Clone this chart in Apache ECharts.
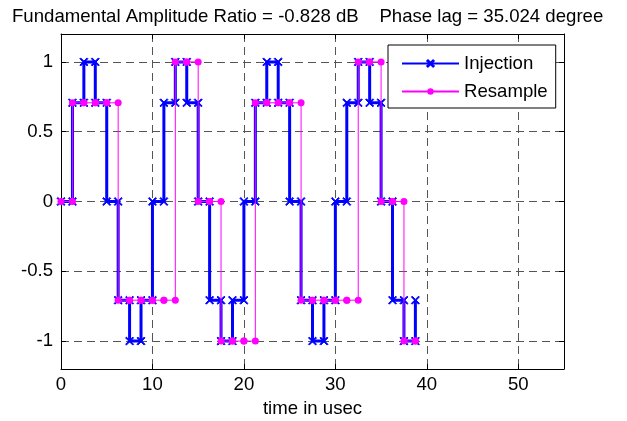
<!DOCTYPE html>
<html>
<head>
<meta charset="utf-8">
<script src="https://cdn.jsdelivr.net/npm/echarts@6/dist/echarts.min.js"></script>
<style>
html,body{margin:0;padding:0;background:#fff;}
#c{width:627px;height:421px;}
</style>
</head>
<body>
<div id="c"></div>
<script>
// ---- data ----
const titleText = 'Fundamental Amplitude Ratio = -0.828 dB    Phase lag = 35.024 degree';
const xTicks = [0, 10, 20, 30, 40, 50];
const yTicks = [-1, -0.5, 0, 0.5, 1];
const timeUs = [0, 1.25, 2.5, 3.75, 5, 6.25, 7.5, 8.75, 10, 11.25, 12.5, 13.75, 15, 16.25, 17.5, 18.75,
                20, 21.25, 22.5, 23.75, 25, 26.25, 27.5, 28.75, 30, 31.25, 32.5, 33.75, 35, 36.25, 37.5, 38.75];
const injection = [0, 0.7071, 1, 0.7071, 0, -0.7071, -1, -0.7071,
                   0, 0.7071, 1, 0.7071, 0, -0.7071, -1, -0.7071,
                   0, 0.7071, 1, 0.7071, 0, -0.7071, -1, -0.7071,
                   0, 0.7071, 1, 0.7071, 0, -0.7071, -1, -0.7071];
const resample = [0, 0.7071, 0.7071, 0.7071, 0.7071, -0.7071, -0.7071, -0.7071,
                  -0.7071, -0.7071, 1, 1, 0, 0, -1, -1,
                  -1, 0.7071, 0.7071, 0.7071, 0.7071, -0.7071, -0.7071, -0.7071,
                  -0.7071, -0.7071, 1, 1, 0, 0, -1, -1];
const seriesNames = ['Injection', 'Resample'];

// stairs vertices (MATLAB-style stairs plotted with markers at every corner)
function stairs(t, y) {
  const pts = [];
  for (let i = 0; i < t.length; i++) {
    pts.push([t[i], y[i]]);
    if (i < t.length - 1) pts.push([t[i + 1], y[i]]);
  }
  return pts;
}

const FONT = '"Liberation Sans", Arial, Helvetica, sans-serif';
const FS = 18.6;
const xMark = 'path://M1,0L5,4L9,0L10,1L6,5L10,9L9,10L5,6L1,10L0,9L4,5L0,1Z';
const gridLine = {show: true, lineStyle: {color: '#555', width: 1, type: [8, 5]}};
const blackLine = {show: true, onZero: false, lineStyle: {color: '#000', width: 1}};

const chart = echarts.init(document.getElementById('c'), null, {renderer: 'canvas'});
chart.setOption({
  animation: false,
  backgroundColor: '#fff',
  title: {
    text: titleText, left: 7, top: 2,
    textStyle: {fontFamily: FONT, fontSize: FS, fontWeight: 'normal', color: '#000'}
  },
  legend: {
    data: seriesNames, orient: 'vertical', left: 388, top: 45,
    padding: [9, 8, 7, 13], itemWidth: 57, itemHeight: 8, itemGap: 9,
    borderColor: '#000', borderWidth: 1, backgroundColor: '#fff',
    textStyle: {fontFamily: FONT, fontSize: FS, color: '#000'}
  },
  grid: {left: 61, right: 63, top: 34, bottom: 52, outerBoundsMode: 'none', containLabel: false},
  xAxis: [{
    type: 'value', min: 0, max: 55, position: 'bottom',
    axisLine: blackLine,
    axisTick: {show: true, inside: true, length: 5, customValues: xTicks, lineStyle: {color: '#000'}},
    axisLabel: {customValues: xTicks, margin: 6, fontFamily: FONT, fontSize: FS, color: '#000'},
    splitLine: gridLine,
    name: 'time in usec', nameLocation: 'middle', nameGap: 30,
    nameTextStyle: {fontFamily: FONT, fontSize: FS, color: '#000'}
  }, {
    type: 'value', min: 0, max: 55, position: 'top',
    axisLine: blackLine,
    axisTick: {show: true, inside: true, length: 5, customValues: xTicks, lineStyle: {color: '#000'}},
    axisLabel: {show: false}, splitLine: {show: false}
  }],
  yAxis: [{
    type: 'value', min: -1.2, max: 1.2, position: 'left',
    axisLine: blackLine,
    axisTick: {show: true, inside: true, length: 5, customValues: yTicks, lineStyle: {color: '#000'}},
    axisLabel: {customValues: yTicks, margin: 8, fontFamily: FONT, fontSize: FS, color: '#000'},
    splitLine: gridLine
  }, {
    type: 'value', min: -1.2, max: 1.2, position: 'right',
    axisLine: blackLine,
    axisTick: {show: true, inside: true, length: 5, customValues: yTicks, lineStyle: {color: '#000'}},
    axisLabel: {show: false}, splitLine: {show: false}
  }],
  series: [{
    name: seriesNames[0], type: 'line', data: stairs(timeUs, injection),
    symbol: xMark, symbolSize: 8, showAllSymbol: true, z: 2,
    lineStyle: {color: '#0000ff', width: 3},
    itemStyle: {color: '#0000ff', borderColor: '#0000ff', borderWidth: 1},
    emphasis: {disabled: true}
  }, {
    name: seriesNames[1], type: 'line', data: stairs(timeUs, resample),
    symbol: 'circle', symbolSize: 7, showAllSymbol: true, z: 3,
    lineStyle: {color: '#ff00ff', width: 1},
    itemStyle: {color: '#ff00ff', borderWidth: 0},
    emphasis: {disabled: true}
  }]
});
</script>
</body>
</html>
